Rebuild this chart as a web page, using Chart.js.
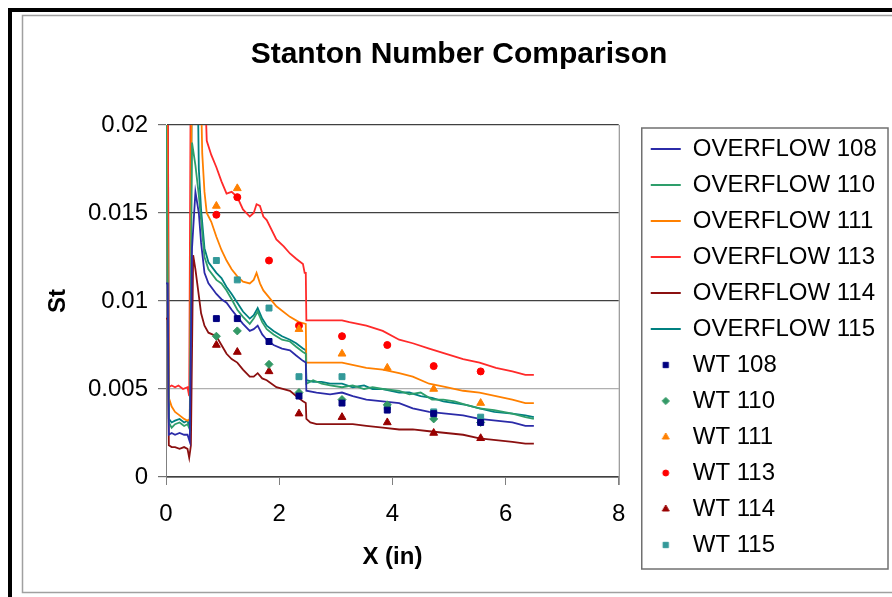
<!DOCTYPE html>
<html>
<head>
<meta charset="utf-8">
<script src="https://cdn.jsdelivr.net/npm/chart.js@4.4.0/dist/chart.umd.min.js"></script>
<style>
html,body{margin:0;padding:0;background:#fff;}
#wrap{width:892px;height:597px;position:relative;overflow:hidden;}
</style>
</head>
<body>
<div id="wrap"><canvas id="c" width="892" height="597"></canvas></div>
<script>
// ---------- tick labels ----------
const xTickLabels = ['0', '2', '4', '6', '8'];
const yTickLabels = ['0', '0.005', '0.01', '0.015', '0.02'];

// ---------- OVERFLOW (CFD) curves ----------
const of108X = [0,0.03,0.05,0.1,0.16,0.24,0.32,0.38,0.42,0.46,0.52,0.58,0.62,0.68,0.75,0.89,0.98,1.07,1.16,1.26,1.36,1.48,1.55,1.62,1.70,1.78,1.90,2.05,2.19,2.30,2.42,2.47,2.48,2.66,2.9,3.11,3.3,3.54,3.83,4.12,4.36,4.65,4.95,5.25,5.54,5.83,6.12,6.35,6.5];
const of108Y = [0.011,0.011,0.0024,0.0025,0.0024,0.0025,0.0024,0.0024,0.0020,0.0130,0.0162,0.0150,0.0133,0.0116,0.0110,0.0104,0.0101,0.0099,0.0095,0.0091,0.0087,0.0083,0.0084,0.0086,0.0081,0.0078,0.0075,0.0073,0.0072,0.0069,0.0066,0.0065,0.0049,0.0048,0.0047,0.0048,0.0046,0.0044,0.0043,0.0042,0.0039,0.0037,0.0036,0.0035,0.0033,0.0032,0.0031,0.0029,0.0029];

const of110X = [0,0.03,0.05,0.1,0.16,0.24,0.32,0.38,0.42,0.46,0.52,0.58,0.62,0.68,0.75,0.89,0.98,1.07,1.16,1.26,1.36,1.48,1.55,1.62,1.70,1.78,1.90,2.05,2.19,2.30,2.42,2.47,2.48,2.6,2.75,2.9,3.11,3.3,3.5,3.65,3.83,4.12,4.3,4.5,4.7,4.9,5.1,5.3,5.54,5.8,6.12,6.35,6.5];
const of110Y = [0.020,0.011,0.0031,0.0028,0.0030,0.0031,0.0029,0.0030,0.0027,0.0190,0.0177,0.0160,0.0146,0.0125,0.0118,0.0112,0.0110,0.0106,0.0101,0.0095,0.0091,0.0087,0.0090,0.0094,0.0088,0.0084,0.0081,0.0078,0.0077,0.0074,0.0071,0.0070,0.0053,0.0055,0.0053,0.0052,0.0051,0.0052,0.0050,0.0051,0.0050,0.0049,0.0047,0.0048,0.0044,0.0044,0.0043,0.0041,0.0039,0.0038,0.0036,0.0034,0.0033];

const of111X = [0,0.03,0.05,0.1,0.16,0.24,0.32,0.38,0.42,0.46,0.6,0.64,0.68,0.72,0.8,0.89,0.98,1.07,1.16,1.26,1.36,1.48,1.55,1.60,1.66,1.72,1.95,2.19,2.35,2.47,2.48,2.66,3.11,3.54,3.83,4.12,4.36,4.65,4.95,5.25,5.54,5.83,6.12,6.35,6.5];
const of111Y = [0.025,0.012,0.0045,0.0040,0.0037,0.0035,0.0033,0.0032,0.0033,0.025,0.025,0.0184,0.0162,0.0150,0.0145,0.01365,0.0129,0.0123,0.0118,0.0114,0.0111,0.0110,0.0112,0.0116,0.0110,0.0106,0.0097,0.0091,0.0088,0.0087,0.0065,0.0065,0.0065,0.0062,0.0061,0.0059,0.0057,0.0053,0.0051,0.0049,0.0048,0.0046,0.0044,0.0042,0.0042];

const of113X = [0,0.03,0.05,0.1,0.16,0.22,0.3,0.38,0.41,0.44,0.66,0.72,0.8,0.89,0.98,1.07,1.16,1.26,1.36,1.48,1.55,1.60,1.66,1.72,1.78,1.95,2.08,2.19,2.30,2.42,2.45,2.47,2.48,2.66,3.11,3.24,3.54,3.83,4.12,4.36,4.65,4.95,5.25,5.54,5.83,6.12,6.35,6.5];
const of113Y = [0.025,0.025,0.0051,0.0052,0.0051,0.0052,0.0050,0.0051,0.0046,0.025,0.025,0.0191,0.0183,0.0176,0.0168,0.0161,0.0162,0.0159,0.0152,0.0148,0.0150,0.0155,0.0154,0.0148,0.0146,0.0135,0.0131,0.0127,0.0124,0.0121,0.0116,0.0116,0.0089,0.0089,0.0089,0.0088,0.0086,0.0083,0.0078,0.0076,0.0073,0.0070,0.0067,0.0065,0.0062,0.0060,0.0058,0.0058];

const of114X = [0,0.03,0.05,0.1,0.16,0.24,0.32,0.38,0.41,0.44,0.48,0.52,0.58,0.62,0.68,0.75,0.89,0.98,1.07,1.16,1.26,1.36,1.48,1.55,1.62,1.70,1.78,1.95,2.19,2.30,2.42,2.47,2.48,2.55,2.66,3.11,3.3,3.54,3.83,4.12,4.36,4.65,4.95,5.25,5.54,5.83,6.12,6.35,6.5];
const of114Y = [0.009,0.009,0.0018,0.0017,0.0017,0.0016,0.0017,0.0016,0.0011,0.0018,0.0126,0.0118,0.0103,0.0093,0.0086,0.0082,0.0080,0.0075,0.0070,0.0067,0.0065,0.0061,0.0057,0.0057,0.0059,0.0056,0.0055,0.0051,0.0049,0.0046,0.0043,0.0042,0.0033,0.0031,0.0030,0.0030,0.0030,0.0029,0.0028,0.0027,0.0027,0.0026,0.0025,0.0024,0.0022,0.0021,0.0020,0.0019,0.0019];

const of115X = [0,0.03,0.05,0.1,0.16,0.24,0.32,0.38,0.42,0.46,0.55,0.58,0.62,0.68,0.75,0.89,0.98,1.07,1.16,1.26,1.36,1.48,1.55,1.62,1.70,1.78,1.90,2.05,2.19,2.30,2.42,2.47,2.48,2.6,2.75,2.9,3.11,3.3,3.5,3.65,3.83,4.12,4.3,4.5,4.7,4.9,5.1,5.3,5.54,5.8,6.12,6.35,6.5];
const of115Y = [0.025,0.025,0.0033,0.0031,0.0032,0.0033,0.0031,0.0032,0.0028,0.025,0.025,0.0175,0.0152,0.0130,0.0122,0.0116,0.0113,0.0108,0.0104,0.0099,0.0094,0.0090,0.0092,0.0096,0.0090,0.0086,0.0083,0.0080,0.0078,0.0076,0.0073,0.0072,0.0055,0.0054,0.0054,0.0053,0.0053,0.0051,0.0052,0.0050,0.0050,0.0048,0.0048,0.0046,0.0045,0.0043,0.0042,0.0041,0.0039,0.0037,0.0036,0.0035,0.0034];

// ---------- wind tunnel (WT) measurements ----------
const wtX   = [0.89, 1.26, 1.82, 2.35, 3.11, 3.91, 4.73, 5.56];
const wt108 = [0.0090, 0.0090, 0.0077, 0.0046, 0.0042, 0.0038, 0.0036, 0.0031];
const wt110 = [0.0080, 0.0083, 0.0064, 0.0048, 0.0044, 0.0041, 0.0033, 0.0031];
const wt111 = [0.0154, 0.0164, null,   0.0084, 0.0070, 0.0062, 0.0050, 0.0042];
const wt113 = [0.0149, 0.0159, 0.0123, 0.0086, 0.0080, 0.0075, 0.0063, 0.0060];
const wt114 = [0.0075, 0.0071, 0.0060, 0.0036, 0.0034, 0.0031, 0.0025, 0.0022];
const wt115 = [0.0123, 0.0112, 0.0096, 0.0057, 0.0057, 0.0040, 0.0037, 0.0034];

const FONT = "'Liberation Sans', Arial, sans-serif";
Chart.defaults.font.family = FONT;
Chart.defaults.color = '#000';

const pts = (xs, ys) => xs.map((x, i) => ({x: x, y: ys[i]}));

// small legend symbol for marker series, drawn with Chart.js's own point painter
function markerImage(style, color, r) {
  const cv = document.createElement('canvas');
  cv.width = 14; cv.height = 14;
  const c = cv.getContext('2d');
  c.fillStyle = color; c.strokeStyle = color; c.lineWidth = 1;
  Chart.helpers.drawPoint(c, {pointStyle: style, radius: r, borderWidth: 1, rotation: 0}, 7, 7);
  return cv;
}

function lineSet(label, xs, ys, color) {
  return {label: label, data: pts(xs, ys), showLine: true, borderColor: color, backgroundColor: color,
          borderWidth: 1.8, pointRadius: 0, pointHoverRadius: 0, tension: 0, order: 1,
          legendSymbol: 'line'};
}
function markSet(label, ys, color, style, r, lr) {
  return {label: label, data: pts(wtX, ys), showLine: false, borderColor: color, backgroundColor: color,
          pointStyle: style, pointRadius: r, pointBorderWidth: 1, order: 0,
          legendSymbol: markerImage(style, color, lr)};
}

const datasets = [
  lineSet('OVERFLOW 108', of108X, of108Y, '#2b2ba8'),
  lineSet('OVERFLOW 110', of110X, of110Y, '#2e9e6b'),
  lineSet('OVERFLOW 111', of111X, of111Y, '#ff8000'),
  lineSet('OVERFLOW 113', of113X, of113Y, '#ff2a2a'),
  lineSet('OVERFLOW 114', of114X, of114Y, '#8b1010'),
  lineSet('OVERFLOW 115', of115X, of115Y, '#008080'),
  markSet('WT 108', wt108, '#000080', 'rect', 4.2, 3.8),
  markSet('WT 110', wt110, '#339966', 'rectRot', 4, 3.6),
  markSet('WT 111', wt111, '#ff8000', 'triangle', 4.5, 4),
  markSet('WT 113', wt113, '#ff0000', 'circle', 3.5, 3),
  markSet('WT 114', wt114, '#990000', 'triangle', 4.5, 4),
  markSet('WT 115', wt115, '#339999', 'rect', 4.2, 3.8)
];

const framePlugin = {
  id: 'frame',
  afterLayout(chart) {
    const a = chart.chartArea;
    const lg = chart.legend;
    if (lg) {
      const dy = a.top - lg.top;
      lg.top += dy; lg.bottom += dy;
      lg.left = a.right + 20;
      lg.right = chart.width;
      lg.width = lg.right - lg.left;
    }
    const tb = chart.titleBlock;
    if (tb) {
      const dx = 459 - (tb.left + tb.right) / 2;
      tb.left += dx; tb.right += dx;
    }
  },
  beforeDraw(chart) {
    const ctx = chart.ctx;
    ctx.save();
    ctx.fillStyle = '#fff';
    ctx.fillRect(0, 0, chart.width, chart.height);
    ctx.strokeStyle = '#a0a0a0';
    ctx.lineWidth = 1.5;
    ctx.strokeRect(22.5, 15.5, 900, 577);
    ctx.fillStyle = '#000';
    ctx.fillRect(8, 8, chart.width - 8, 4);
    ctx.fillRect(8, 8, 4, chart.height - 8);
    ctx.restore();
  },
  beforeDatasetsDraw(chart) {
    const {ctx, chartArea: a} = chart;
    ctx.save();
    ctx.strokeStyle = '#808080';
    ctx.lineWidth = 1;
    ctx.beginPath();
    ctx.moveTo(a.right + 0.5, a.top);
    ctx.lineTo(a.right + 0.5, a.bottom + 8);
    ctx.stroke();
    ctx.restore();
  },
  afterDraw(chart) {
    const lg = chart.legend;
    if (!lg || !lg.legendHitBoxes || !lg.legendHitBoxes.length) return;
    const hb = lg.legendHitBoxes;
    const last = hb[hb.length - 1];
    const ctx = chart.ctx;
    ctx.save();
    ctx.strokeStyle = '#707070';
    ctx.lineWidth = 1.5;
    const x0 = lg.left + 3, y0 = lg.top + 3;
    const y1 = last.top + last.height + 12;
    ctx.strokeRect(x0, y0, 888 - x0, y1 - y0);
    ctx.restore();
  }
};

new Chart(document.getElementById('c'), {
  type: 'scatter',
  data: {datasets: datasets},
  plugins: [framePlugin],
  options: {
    responsive: false,
    animation: false,
    devicePixelRatio: 1,
    layout: {padding: {left: 30, right: 77, top: 20, bottom: 10}},
    plugins: {
      tooltip: {enabled: false},
      title: {
        display: true,
        text: 'Stanton Number Comparison',
        color: '#000',
        font: {family: FONT, size: 30, weight: 'bold', lineHeight: 1.2},
        padding: {top: 17, bottom: 52}
      },
      legend: {
        display: true,
        position: 'right',
        align: 'start',
        labels: {
          font: {family: FONT, size: 24},
          color: '#000',
          padding: 12,
          usePointStyle: true,
          pointStyleWidth: 30,
          boxHeight: 6,
          generateLabels: (chart) => chart.data.datasets.map((ds, i) => ({
            text: ds.label,
            fillStyle: ds.backgroundColor,
            strokeStyle: ds.borderColor,
            lineWidth: 2,
            pointStyle: ds.legendSymbol,
            hidden: false,
            fontColor: '#000',
            datasetIndex: i
          }))
        }
      }
    },
    scales: {
      x: {
        type: 'linear',
        min: 0, max: 8,
        afterFit: (s) => { s.height = 110; },
        ticks: {
          stepSize: 2,
          color: '#000',
          font: {family: FONT, size: 24},
          padding: 15,
          maxRotation: 0,
          callback: (v, i) => xTickLabels[i]
        },
        grid: {drawOnChartArea: false, drawTicks: true, tickLength: 8, color: '#808080'},
        border: {display: true, color: '#808080', width: 1},
        title: {display: true, text: 'X (in)', color: '#000',
                font: {family: FONT, size: 24, weight: 'bold'}, padding: {top: 0, bottom: 15}}
      },
      y: {
        type: 'linear',
        min: 0, max: 0.02,
        afterFit: (s) => { s.width = 136; },
        ticks: {
          stepSize: 0.005,
          color: '#000',
          font: {family: FONT, size: 24},
          padding: 10,
          callback: (v, i) => yTickLabels[i]
        },
        grid: {
          drawTicks: true,
          tickLength: 8,
          tickColor: '#707070',
          color: (c) => (c.index === 1 ? '#b0b0b0' : '#404040'),
          lineWidth: 1.2
        },
        border: {display: true, color: '#808080', width: 1},
        title: {display: true, text: 'St', color: '#000',
                font: {family: FONT, size: 24, weight: 'bold'}, padding: {top: 14, bottom: 0}}
      }
    }
  }
});
</script>
</body>
</html>
